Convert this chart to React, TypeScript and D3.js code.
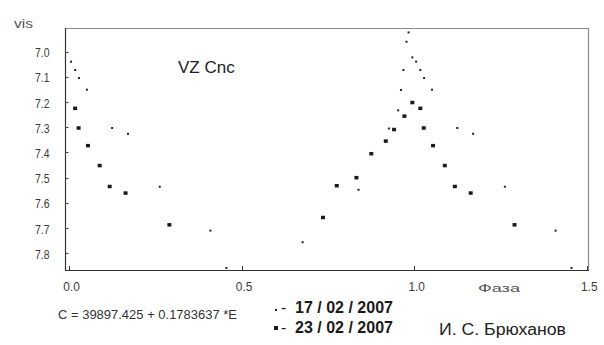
import React from "react";
import * as d3 from "d3";

const W = 604;
const H = 345;

// 17/02/2007 observations (phase in [0,1), vis magnitude)
const dotPhase = [0.005, 0.017, 0.028, 0.051, 0.124, 0.170, 0.262, 0.409, 0.455, 0.676, 0.838, 0.926, 0.953, 0.961, 0.968, 0.977, 0.983, 0.994];
const dotMag = [7.040, 7.073, 7.105, 7.151, 7.303, 7.326, 7.536, 7.710, 7.858, 7.756, 7.548, 7.305, 7.233, 7.152, 7.073, 6.961, 6.924, 7.023];

// 23/02/2007 observations
const sqPhase = [0.017, 0.027, 0.054, 0.088, 0.117, 0.163, 0.290, 0.735, 0.775, 0.832, 0.875, 0.917, 0.941, 0.971, 0.994];
const sqMag = [7.225, 7.303, 7.373, 7.452, 7.535, 7.561, 7.687, 7.658, 7.532, 7.500, 7.405, 7.355, 7.309, 7.256, 7.202];

const xTicks = [0, 0.5, 1.0, 1.5];
const xTickLabels = ["0.0", "0.5", "1.0", "1.5"];
const yTicks = [7.0, 7.1, 7.2, 7.3, 7.4, 7.5, 7.6, 7.7, 7.8];
const yTickLabels = ["7.0", "7.1", "7.2", "7.3", "7.4", "7.5", "7.6", "7.7", "7.8"];

const X_MAX = 1.5;

const FONT = "Arial, 'Liberation Sans', sans-serif";

function unfold(phases: number[], mags: number[]) {
  const out: { p: number; m: number }[] = [];
  phases.forEach((p, i) => {
    out.push({ p, m: mags[i] });
    if (p + 1 <= X_MAX) out.push({ p: p + 1, m: mags[i] });
  });
  return out;
}

export default function App() {
  const left = 65, right = 588, top = 28, bottom = 270;
  const x = d3.scaleLinear().domain([-0.01246, 1.5029]).range([left, right]);
  const y = d3.scaleLinear().domain([6.9064, 7.8662]).range([top, bottom]);

  const dots = unfold(dotPhase, dotMag);
  const squares = unfold(sqPhase, sqMag);

  return (
    <svg width={W} height={H} style={{ position: "absolute", left: 0, top: 0, background: "#fff" }}>
      <rect x={0} y={0} width={W} height={H} fill="#fff" />
      {/* frame */}
      <line x1={left} y1={top + 0.5} x2={right} y2={top + 0.5} stroke="#8a8a8a" strokeWidth={1.2} />
      <line x1={right + 0.5} y1={top} x2={right + 0.5} y2={bottom} stroke="#8a8a8a" strokeWidth={1.2} />
      <line x1={left + 0.5} y1={top} x2={left + 0.5} y2={bottom + 1} stroke="#333" strokeWidth={1.2} />
      <line x1={left} y1={bottom + 0.5} x2={right + 1} y2={bottom + 0.5} stroke="#333" strokeWidth={1.2} />

      {/* y ticks */}
      {yTicks.map((t, i) => (
        <g key={"y" + i}>
          <line x1={left} x2={left + 3.5} y1={Math.round(y(t)) + 0.5} y2={Math.round(y(t)) + 0.5} stroke="#444" strokeWidth={1} />
          <text x={35} y={y(t) + 5.5} fontFamily={FONT} fontSize={13} fill="#3a3a3a" textLength={14.5} lengthAdjust="spacingAndGlyphs">
            {yTickLabels[i]}
          </text>
        </g>
      ))}

      {/* x ticks */}
      {xTicks.map((t, i) => (
        <g key={"x" + i}>
          <line x1={Math.round(x(t)) + 0.5} x2={Math.round(x(t)) + 0.5} y1={bottom - 4} y2={bottom} stroke="#333" strokeWidth={1} />
          <text x={x(t) - 6} y={291} fontFamily={FONT} fontSize={13} fill="#3a3a3a" textLength={16.5} lengthAdjust="spacingAndGlyphs">
            {xTickLabels[i]}
          </text>
        </g>
      ))}

      {/* points */}
      {dots.map((d, i) => (
        <rect key={"d" + i} x={x(d.p) - 1} y={y(d.m) - 1} width={2} height={2} fill="#222" />
      ))}
      {squares.map((d, i) => (
        <rect key={"s" + i} x={x(d.p) - 2} y={y(d.m) - 1.75} width={4} height={3.5} fill="#1a1a1a" />
      ))}

      {/* labels */}
      <text x={14} y={28} fontFamily={FONT} fontSize={12} fill="#555" textLength={19} lengthAdjust="spacingAndGlyphs">vis</text>
      <text x={478} y={291.5} fontFamily={FONT} fontSize={11.5} fill="#555" textLength={42} lengthAdjust="spacingAndGlyphs">Фаза</text>
      <text x={178} y={73} fontFamily={FONT} fontSize={17} fill="#222">VZ Cnc</text>
      <text x={58} y={319} fontFamily={FONT} fontSize={13} fill="#333" textLength={179} lengthAdjust="spacingAndGlyphs">C = 39897.425 + 0.1783637 *E</text>

      {/* legend */}
      <rect x={275} y={309} width={2} height={2} fill="#222" />
      <text x={281} y={312.5} fontFamily={FONT} fontSize={16} fill="#1a1a1a">-</text>
      <text x={295} y={312.5} fontFamily={FONT} fontSize={16} fontWeight={600} fill="#1a1a1a" textLength={98} lengthAdjust="spacingAndGlyphs">17 / 02 / 2007</text>
      <rect x={274} y={326} width={4} height={4} fill="#1a1a1a" />
      <text x={281} y={333} fontFamily={FONT} fontSize={16} fill="#1a1a1a">-</text>
      <text x={295} y={333} fontFamily={FONT} fontSize={16} fontWeight={600} fill="#1a1a1a" textLength={98} lengthAdjust="spacingAndGlyphs">23 / 02 / 2007</text>

      <text x={439} y={335} fontFamily={FONT} fontSize={16} fill="#222" textLength={127} lengthAdjust="spacingAndGlyphs">И. С. Брюханов</text>
    </svg>
  );
}
